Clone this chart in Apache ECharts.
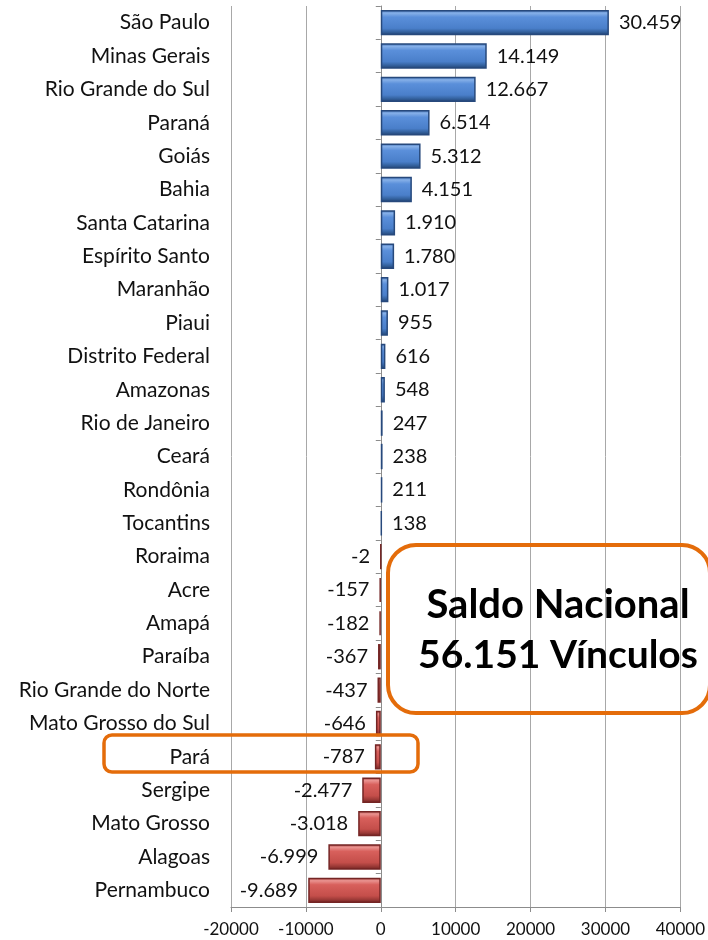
<!DOCTYPE html>
<html>
<head>
<meta charset="utf-8">
<script src="https://cdn.jsdelivr.net/npm/echarts@6/dist/echarts.min.js"></script>
<style>
html,body{margin:0;padding:0;background:#fff;}
#c{width:708px;height:940px;}
</style>
</head>
<body>
<div id="c"></div>
<script>
var categories = ['São Paulo','Minas Gerais','Rio Grande do Sul','Paraná','Goiás','Bahia','Santa Catarina','Espírito Santo','Maranhão','Piaui','Distrito Federal','Amazonas','Rio de Janeiro','Ceará','Rondônia','Tocantins','Roraima','Acre','Amapá','Paraíba','Rio Grande do Norte','Mato Grosso do Sul','Pará','Sergipe','Mato Grosso','Alagoas','Pernambuco'];
var values = [30459,14149,12667,6514,5312,4151,1910,1780,1017,955,616,548,247,238,211,138,-2,-157,-182,-367,-437,-646,-787,-2477,-3018,-6999,-9689];
var axisMin = -20000, axisMax = 40000, axisStep = 10000;
var annotationLines = ['Saldo Nacional', '56.151 Vínculos'];

var FONT = 'Lato, "Open Sans", sans-serif';
function fmt(v){
  var s = String(Math.abs(v)).replace(/\B(?=(\d{3})+(?!\d))/g, '.');
  return (v < 0 ? '-' : '') + s;
}
function grad(c){
  return new echarts.graphic.LinearGradient(0,0,0,1,[
    {offset:0,color:c[0]},{offset:0.12,color:c[1]},{offset:0.28,color:c[2]},
    {offset:0.72,color:c[3]},{offset:0.86,color:c[4]},{offset:1,color:c[5]}]);
}
var blue = ['#3a6bb2','#86b0e8','#5a8fda','#4a7fca','#34629f','#203f6e'];
var red  = ['#a6413e','#ea9390','#d8605c','#c44e4a','#9e3b38','#6e2220'];

var data = values.map(function(v){
  var pos = v >= 0;
  return {
    value: v,
    itemStyle: {color: grad(pos ? blue : red), borderColor: pos ? '#27497c' : '#742524', borderWidth: 1.5},
    label: {position: pos ? 'right' : 'left'}
  };
});

var chart = echarts.init(document.getElementById('c'), null, {renderer:'canvas'});
chart.setOption({
  animation: false,
  backgroundColor: '#fff',
  grid: {left: 231, right: 27, top: 6, bottom: 33},
  xAxis: {
    type: 'value', min: axisMin, max: axisMax, interval: axisStep,
    axisLine: {show: true, lineStyle: {color: '#8c8c8c'}},
    axisTick: {show: true, length: 5, lineStyle: {color: '#8c8c8c'}},
    axisLabel: {fontFamily: FONT, fontSize: 17, color: '#111', margin: 14,
      formatter: function(v){ return String(v); }},
    splitLine: {show: true, lineStyle: {color: '#a8a8a8', width: 1}}
  },
  yAxis: [{
    type: 'category', data: categories, inverse: true, position: 'left',
    axisLine: {show: false, onZero: false},
    axisTick: {show: false},
    axisLabel: {fontFamily: FONT, fontSize: 21, color: '#111', margin: 21}
  },{
    type: 'category', data: categories, inverse: true, position: 'left',
    axisLine: {show: true, onZero: true, lineStyle: {color: '#8c8c8c'}},
    axisTick: {show: true, length: 5, lineStyle: {color: '#8c8c8c'}},
    axisLabel: {show: false}
  }],
  series: [{
    type: 'bar', yAxisIndex: 0, data: data, barCategoryGap: '24%',
    label: {show: true, fontFamily: FONT, fontSize: 20, color: '#111', distance: 10,
      formatter: function(p){ return fmt(p.value); }}
  }],
  graphic: [
    {type:'rect', shape:{x:388, y:545, width:322, height:168, r:28},
     style:{fill:'none', stroke:'#E46C0A', lineWidth:4}, z:100},
    {type:'rect', shape:{x:104, y:735, width:314, height:37, r:8},
     style:{fill:'none', stroke:'#E46C0A', lineWidth:3.5}, z:100},
    {type:'text', x:558, y:605, style:{text: annotationLines[0], font:'bold 40px '+FONT, fill:'#000', textAlign:'center', textVerticalAlign:'middle'}, z:101},
    {type:'text', x:558, y:655, style:{text: annotationLines[1], font:'bold 39px '+FONT, fill:'#000', textAlign:'center', textVerticalAlign:'middle'}, z:101}
  ]
});
</script>
</body>
</html>
